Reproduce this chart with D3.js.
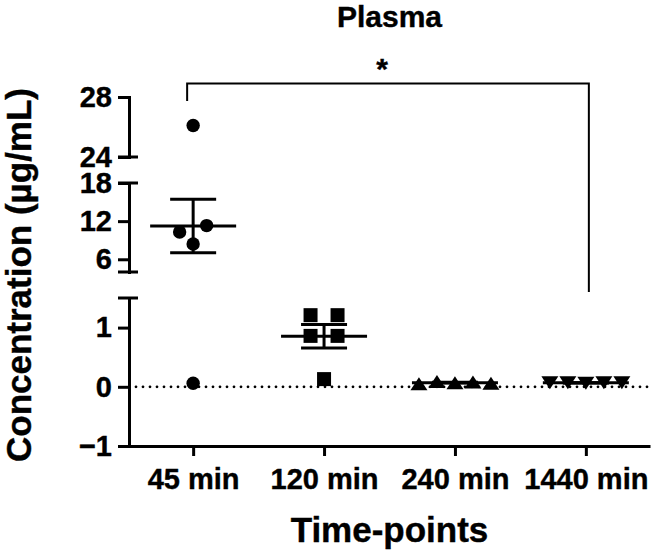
<!DOCTYPE html>
<html><head><meta charset="utf-8">
<script src="https://cdn.jsdelivr.net/npm/d3@7"></script>
<style>
body{margin:0;background:#fff}
svg{display:block}
text{font-family:"Liberation Sans",Arial,Helvetica,sans-serif;font-weight:bold;fill:#000;stroke:#000;stroke-width:0.4px}
</style>
</head><body>
<svg id="chart" width="654" height="550"></svg>
<script>
// ---------------- data ----------------
const categories = ["45 min", "120 min", "240 min", "1440 min"];
const markerTypes = ["circle", "square", "triangle", "triangleDown"];
const values45 = [26.1, 10.3, 11.3, 8.4, 0.06];
const values120 = [1.21, 1.21, 0.86, 0.86, 0.13];
const values240 = [0.05, 0.09, 0.07, 0.08, 0.06];
const values1440 = [0.07, 0.07, 0.06, 0.07, 0.07];
const seriesValues = [values45, values120, values240, values1440];
const yTicksTop = [24, 28];
const yTicksMid = [6, 12, 18];
const yTicksBottom = [-1, 0, 1];
const domainTop = [24, 28];
const domainMid = [4, 18];
const domainBottom = [-1, 1.5];
const sigFrom = "45 min", sigTo = "1440 min", sigLabel = "*";
const titleText = "Plasma", xTitleText = "Time-points", yTitleText = "Concentration (µg/mL)";

// ---------------- layout ----------------
const svg = d3.select("#chart");
const axisX0 = 129, axisX1 = 650;
const x = d3.scalePoint().domain(categories).range([axisX0, axisX1]).padding(0.49);
const yTop = d3.scaleLinear().domain(domainTop).range([157, 97]);
const yMid = d3.scaleLinear().domain(domainMid).range([272, 183]);
const yBot = d3.scaleLinear().domain(domainBottom).range([446, 298]);
function y(v) { return v >= 21 ? yTop(v) : (v >= 3 ? yMid(v) : yBot(v)); }

const black = "#000";
const axisW = 3, tickLen = 11, capExt = 9;

// title
svg.append("text").attr("x", (axisX0 + axisX1) / 2).attr("y", 27)
  .attr("text-anchor", "middle").style("font-size", "30px").text(titleText);

// zero dotted line
svg.append("line").attr("x1", axisX0).attr("x2", axisX1)
  .attr("y1", yBot(0)).attr("y2", yBot(0))
  .attr("stroke", black).attr("stroke-width", 2.8)
  .attr("stroke-linecap", "round").attr("stroke-dasharray", "0,7");

// y axis segments
function ySegment(scale, ticks, capTop, capBottom) {
  const g = svg.append("g").attr("transform", `translate(${axisX0},0)`)
    .call(d3.axisLeft(scale).tickValues(ticks).tickSize(tickLen).tickSizeOuter(0).tickPadding(6).tickFormat(d3.format("d")));
  g.select(".domain").attr("stroke", black).attr("stroke-width", axisW).attr("stroke-linecap", "square");
  g.selectAll(".tick line").attr("stroke", black).attr("stroke-width", axisW);
  g.selectAll(".tick text").style("font-size", "29px").attr("fill", black);
  const d = scale.domain();
  const ends = [];
  if (capTop) ends.push(d[1]);
  if (capBottom) ends.push(d[0]);
  ends.forEach(v => {
    g.append("line").attr("x1", -tickLen).attr("x2", capExt)
      .attr("y1", scale(v)).attr("y2", scale(v))
      .attr("stroke", black).attr("stroke-width", axisW);
  });
}
ySegment(yTop, yTicksTop, false, true);
ySegment(yMid, yTicksMid, true, true);
ySegment(yBot, yTicksBottom, true, false);

// x axis
const gx = svg.append("g").attr("transform", `translate(0,${yBot(domainBottom[0])})`)
  .call(d3.axisBottom(x).tickSize(10).tickSizeOuter(0).tickPadding(12));
gx.select(".domain").attr("stroke", black).attr("stroke-width", axisW);
gx.selectAll(".tick line").attr("stroke", black).attr("stroke-width", axisW);
gx.selectAll(".tick text").style("font-size", "29px").attr("fill", black);

// axis titles
svg.append("text").attr("x", (axisX0 + axisX1) / 2).attr("y", 542)
  .attr("text-anchor", "middle").style("font-size", "35px").text(xTitleText);
svg.append("text").attr("transform", "translate(31,275) rotate(-90)")
  .attr("text-anchor", "middle").style("font-size", "35px").text(yTitleText);

// ---------------- data marks ----------------
const rowTol = 13, maxSpacing = 27, maxRowWidth = 72;
function swarm(vals) {
  const items = vals.map((v, i) => ({ v, i, py: y(v) }));
  const sorted = items.slice().sort((a, b) => a.py - b.py);
  const rows = [];
  sorted.forEach(it => {
    const r = rows[rows.length - 1];
    if (r && Math.abs(it.py - r[0].py) < rowTol) r.push(it); else rows.push([it]);
  });
  rows.forEach(r => {
    r.sort((a, b) => a.i - b.i);
    const n = r.length;
    const sp = n > 1 ? Math.min(maxSpacing, maxRowWidth / (n - 1)) : 0;
    r.forEach((it, k) => it.dx = (k - (n - 1) / 2) * sp);
  });
  return items;
}

function markerPath(type) {
  if (type === "circle") return "M6.7,0A6.7,6.7,0,1,1,-6.7,0A6.7,6.7,0,1,1,6.7,0Z";
  if (type === "square") return "M-7,-7H7V7H-7Z";
  if (type === "triangle") return "M0,-6.5L8.5,6.5L-8.5,6.5Z";
  return "M-8.5,-6.5L8.5,-6.5L0,6.5Z";
}

const meanHalf = 43, capHalf = 23, barW = 3;
categories.forEach((cat, ci) => {
  const vals = seriesValues[ci];
  const cx = x(cat);
  const m = d3.mean(vals);
  const sem = d3.deviation(vals) / Math.sqrt(vals.length);
  const g = svg.append("g");
  swarm(vals).forEach(p => {
    g.append("path").attr("d", markerPath(markerTypes[ci]))
      .attr("transform", `translate(${cx + p.dx},${p.py})`).attr("fill", black);
  });
  g.append("line").attr("x1", cx - meanHalf).attr("x2", cx + meanHalf)
    .attr("y1", y(m)).attr("y2", y(m)).attr("stroke", black).attr("stroke-width", barW);
  g.append("line").attr("x1", cx).attr("x2", cx)
    .attr("y1", y(m - sem)).attr("y2", y(m + sem)).attr("stroke", black).attr("stroke-width", barW);
  [m - sem, m + sem].forEach(v => {
    g.append("line").attr("x1", cx - capHalf).attr("x2", cx + capHalf)
      .attr("y1", y(v)).attr("y2", y(v)).attr("stroke", black).attr("stroke-width", barW);
  });
});

// significance bracket
const bx1 = x(sigFrom) - 6, bx2 = x(sigTo) + 3, by = 83.5;
svg.append("path")
  .attr("d", `M${bx1},${yTop(domainTop[1]) + 4}V${by}H${bx2}V${yBot(domainBottom[1]) - 6}`)
  .attr("fill", "none").attr("stroke", black).attr("stroke-width", 2);
svg.append("text").attr("x", (bx1 + bx2) / 2 - 6).attr("y", 79)
  .attr("text-anchor", "middle").style("font-size", "30px").text(sigLabel);
</script>
</body></html>
